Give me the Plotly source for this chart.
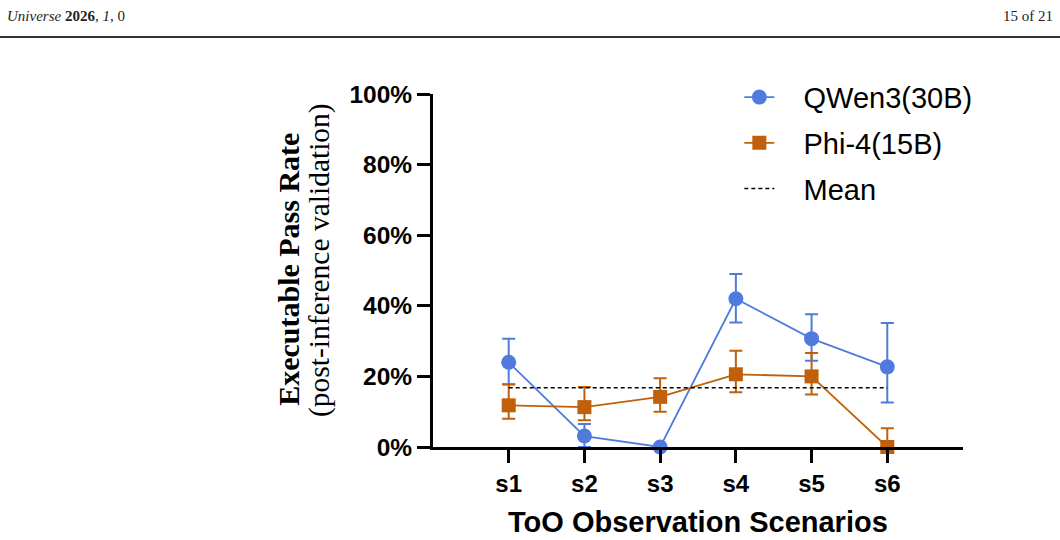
import plotly.graph_objects as go

# ---------------- data ----------------
scenarios = ["s1", "s2", "s3", "s4", "s5", "s6"]
scenario_pos = [1, 2, 3, 4, 5, 6]

qwen_rate = [24.0, 3.1, 0.0, 42.0, 30.7, 22.7]
qwen_err_plus = [6.7, 3.4, 0.0, 7.0, 6.9, 12.4]
qwen_err_minus = [6.2, 3.1, 0.0, 6.7, 6.3, 10.1]

phi_rate = [11.8, 11.3, 14.2, 20.6, 20.0, 0.0]
phi_err_plus = [5.9, 5.7, 5.3, 6.7, 6.6, 5.3]
phi_err_minus = [3.8, 3.7, 4.2, 5.1, 5.1, 0.0]

mean_value = 16.8

y_tick_vals = [0, 20, 40, 60, 80, 100]
y_tick_text = ["0%", "20%", "40%", "60%", "80%", "100%"]

BLUE = "#4f7bdf"
ORANGE = "#c0600a"

fig = go.Figure()

fig.add_trace(go.Scatter(
    x=scenario_pos, y=qwen_rate, name="\u00a0\u00a0\u00a0QWen3(30B)",
    mode="lines+markers", legendgroup="a",
    line=dict(color=BLUE, width=1.8),
    marker=dict(symbol="circle", size=15, color=BLUE),
    error_y=dict(type="data", array=qwen_err_plus, arrayminus=qwen_err_minus,
                 color=BLUE, thickness=2, width=6.5),
    cliponaxis=False,
))

fig.add_trace(go.Scatter(
    x=scenario_pos, y=phi_rate, name="\u00a0\u00a0\u00a0Phi-4(15B)",
    mode="lines+markers", legendgroup="b",
    line=dict(color=ORANGE, width=1.8),
    marker=dict(symbol="square", size=14, color=ORANGE),
    error_y=dict(type="data", array=phi_err_plus, arrayminus=phi_err_minus,
                 color=ORANGE, thickness=2, width=6.5),
    cliponaxis=False,
))

fig.add_trace(go.Scatter(
    x=[scenario_pos[0], scenario_pos[-1]], y=[mean_value, mean_value],
    name="\u00a0\u00a0\u00a0Mean", mode="lines", legendgroup="c",
    line=dict(color="black", width=1.5, dash="4px,3px"),
    cliponaxis=False,
))

fig.update_layout(
    width=1060, height=540,
    margin=dict(l=433, r=97, t=94, b=93),
    paper_bgcolor="white", plot_bgcolor="white",
    font=dict(family="Liberation Sans, Arial, sans-serif", color="black"),
    showlegend=True,
    legend=dict(
        x=0.578, y=1.063, xanchor="left", yanchor="top",
        font=dict(size=29, family="Liberation Sans, Arial, sans-serif", color="black"),
        bgcolor="rgba(0,0,0,0)", tracegroupgap=5,
    ),
    xaxis=dict(
        range=[0, 7], tickmode="array", tickvals=scenario_pos, ticktext=scenarios,
        showline=True, linecolor="black", linewidth=3,
        ticks="outside", ticklen=13, tickwidth=3, tickcolor="black",
        showgrid=False, zeroline=False,
        tickfont=dict(size=24, family="Liberation Sans, Arial, sans-serif", color="black", weight="bold"),
    ),
    yaxis=dict(
        range=[0, 100], tickmode="array", tickvals=y_tick_vals, ticktext=y_tick_text,
        showline=True, linecolor="black", linewidth=3,
        ticks="outside", ticklen=13, tickwidth=3, tickcolor="black",
        showgrid=False, zeroline=False,
        tickfont=dict(size=24.5, family="Liberation Sans, Arial, sans-serif", color="black", weight="bold"),
    ),
)

# axis titles
fig.add_annotation(
    text="<b>ToO Observation Scenarios</b>", xref="paper", yref="paper",
    x=0.5, y=-0.212, xanchor="center", yanchor="middle", showarrow=False,
    font=dict(size=29, family="Liberation Sans, Arial, sans-serif", color="black"),
)
fig.add_annotation(
    text="<b>Executable Pass Rate</b>", xref="paper", yref="paper",
    x=-0.274, y=0.504, xanchor="center", yanchor="middle", showarrow=False,
    textangle=-90,
    font=dict(size=30, family="Liberation Serif, Times New Roman, serif", color="black"),
)
fig.add_annotation(
    text="(post-inference validation)", xref="paper", yref="paper",
    x=-0.213, y=0.53, xanchor="center", yanchor="middle", showarrow=False,
    textangle=-90,
    font=dict(size=29.5, family="Liberation Serif, Times New Roman, serif", color="black"),
)

# page header
fig.add_annotation(
    text="<i>Universe</i> <b>2026</b>, <i>1</i>, 0", xref="paper", yref="paper",
    x=-433 / 530 + 5 / 530, y=(447 - 16) / 353, xanchor="left", yanchor="middle",
    showarrow=False,
    font=dict(size=15, family="Liberation Serif, Times New Roman, serif", color="#222"),
)
fig.add_annotation(
    text="15 of 21", xref="paper", yref="paper",
    x=(1055 - 433) / 530, y=(447 - 16) / 353, xanchor="right", yanchor="middle",
    showarrow=False,
    font=dict(size=15, family="Liberation Serif, Times New Roman, serif", color="#222"),
)
fig.add_shape(
    type="line", xref="paper", yref="paper",
    x0=-433 / 530, x1=(1060 - 433) / 530, y0=(447 - 37) / 353, y1=(447 - 37) / 353,
    line=dict(color="#333", width=2),
)

fig.write_html("out.html")
